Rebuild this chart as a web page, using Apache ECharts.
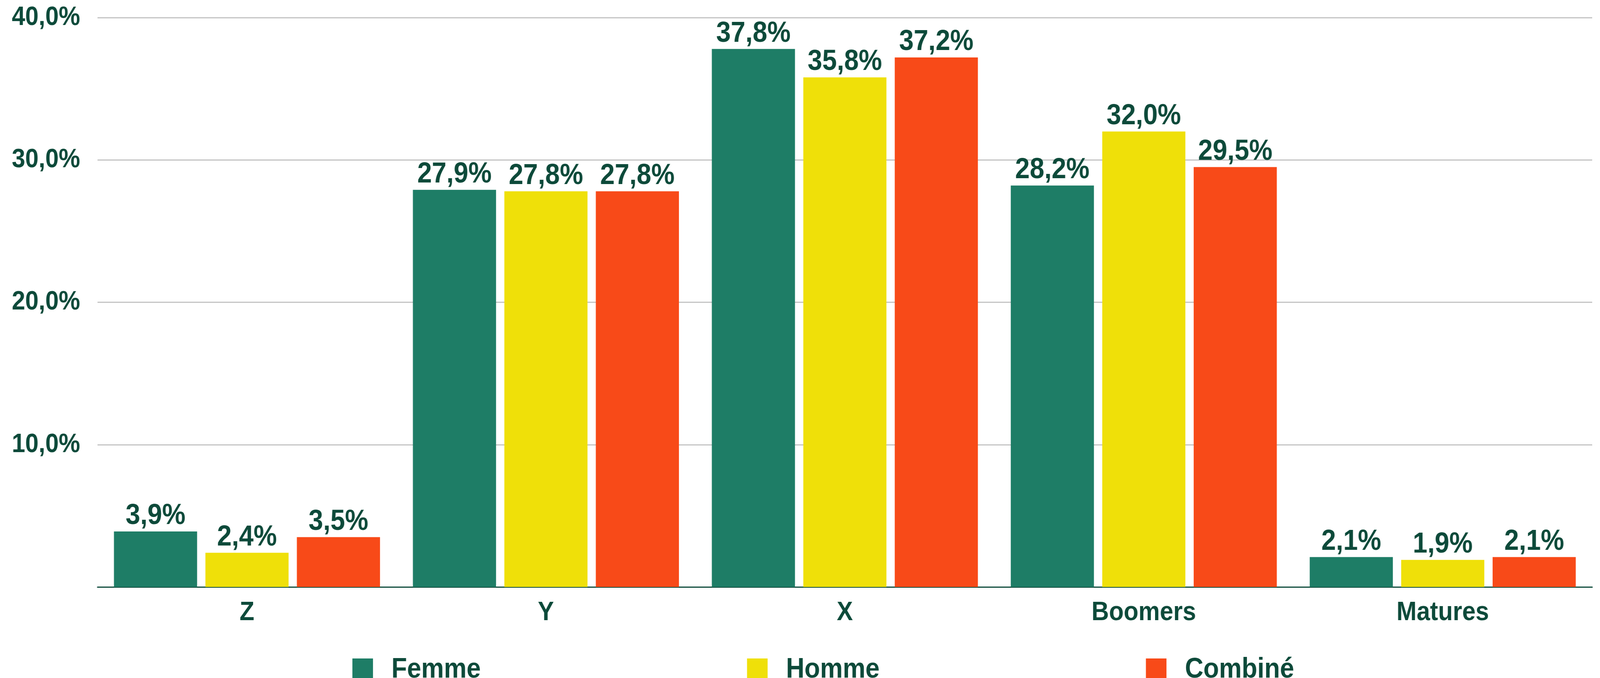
<!DOCTYPE html>
<html>
<head>
<meta charset="utf-8">
<script src="https://cdn.jsdelivr.net/npm/echarts@6/dist/echarts.min.js"></script>
<style>
html,body{margin:0;padding:0;background:#fff;overflow:hidden;}
#c{width:4513px;height:1735px;transform-origin:0 0;}
</style>
</head>
<body>
<div id="c"></div>
<script>
const categories = ['Z', 'Y', 'X', 'Boomers', 'Matures'];
const seriesNames = ['Femme', 'Homme', 'Combiné'];
const femme = [3.9, 27.9, 37.8, 28.2, 2.1];
const homme = [2.4, 27.8, 35.8, 32.0, 1.9];
const combine = [3.5, 27.8, 37.2, 29.5, 2.1];
const yTicks = [0, 10, 20, 30, 40];

const textColor = '#0d4a3a';
const colors = ['#1e7d66', '#efe009', '#f84a18'];
const fontFamily = '"Liberation Sans", Arial, sans-serif';
const fmt = v => v.toFixed(1).replace('.', ',') + '%';

// The window may be narrower/shorter than the 4513x1735 design: fit the chart by scaling the whole element.
const el = document.getElementById('c');
el.style.transform = 'scale(' + (window.innerWidth / 4513) + ',' + (window.innerHeight / 1735) + ')';

const chart = echarts.init(el, null, {renderer: 'canvas'});
const mk = (name, data, color) => ({
  name, type: 'bar', data,
  itemStyle: {color},
  barGap: '10%', barCategoryGap: '11%',
  label: {
    show: true, position: 'top', distance: 2,
    color: textColor, fontFamily, fontWeight: 'bold', fontSize: 74,
    formatter: p => fmt(p.value)
  }
});
chart.setOption({
  animation: false,
  backgroundColor: '#ffffff',
  color: colors,
  grid: {left: 275, right: 22, top: 45, bottom: 233, containLabel: false},
  legend: {
    data: seriesNames,
    left: 989, top: 1673,
    itemWidth: 58, itemHeight: 58, itemGap: 751,
    icon: 'rect',
    textStyle: {color: textColor, fontFamily, fontWeight: 'bold', fontSize: 72, padding: [0, 0, 0, 47]}
  },
  xAxis: {
    type: 'category', data: categories,
    axisTick: {show: false},
    axisLine: {lineStyle: {color: textColor, width: 3}},
    axisLabel: {color: textColor, fontFamily, fontWeight: 'bold', fontSize: 68, margin: 32}
  },
  yAxis: {
    type: 'value', min: yTicks[0], max: yTicks[yTicks.length - 1], interval: 10,
    axisLine: {show: false}, axisTick: {show: false},
    splitLine: {lineStyle: {color: '#c4c4c4', width: 3}},
    axisLabel: {color: textColor, fontFamily, fontWeight: 'bold', fontSize: 68, margin: 49,
      formatter: v => v === 0 ? '' : fmt(v)}
  },
  series: [mk(seriesNames[0], femme, colors[0]), mk(seriesNames[1], homme, colors[1]), mk(seriesNames[2], combine, colors[2])]
});
</script>
</body>
</html>
